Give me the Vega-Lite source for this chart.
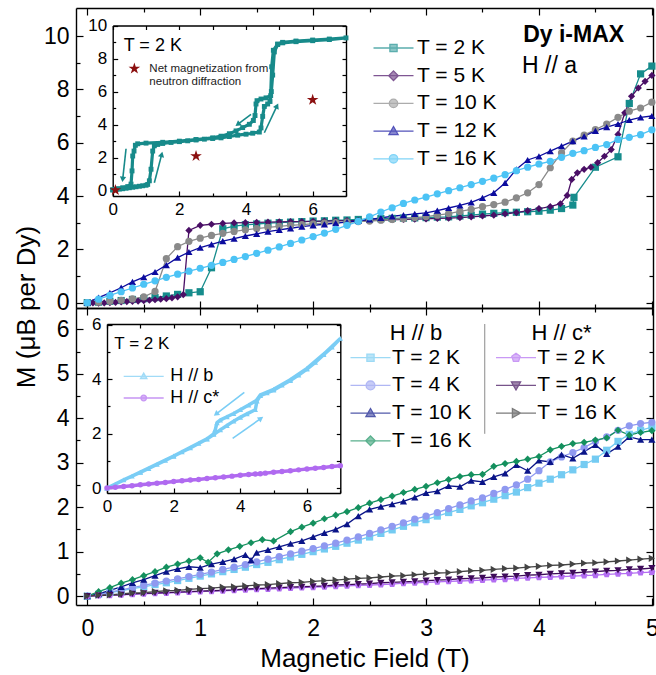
{
"$schema":"https://vega.github.io/schema/vega-lite/v6.json",
"autosize":{"type":"pad"},
"padding":{"left":13,"top":7,"right":2,"bottom":2},
"background":"white",
"spacing":0,
"bounds":"flush",
"config":{
 "font":"Liberation Sans",
 "view":{"stroke":null},
 "axis":{"grid":false,"domainColor":"black","domainWidth":1.4,"tickColor":"black","tickWidth":1.2,"labelColor":"black","titleColor":"black","labelFont":"Liberation Sans","titleFont":"Liberation Sans","titleFontWeight":"normal","labelFlush":false,"labelOverlap":false},
 "legend":{"labelFont":"Liberation Sans","titleFont":"Liberation Sans","labelColor":"black","titleColor":"black","titleFontWeight":"normal","padding":0,"symbolStrokeWidth":1.3,"symbolSize":64}
},
"resolve":{"scale":{"x":"independent","y":"independent","color":"independent","fill":"independent","stroke":"independent","shape":"independent"}},
"datasets":{
"origin":[{"H":0,"M":0}],
"topMain":[
{"s":"2","H":0,"M":0},{"s":"2","H":0.1,"M":0.02},{"s":"2","H":0.2,"M":0.05},{"s":"2","H":0.3,"M":0.08},{"s":"2","H":0.4,"M":0.12},{"s":"2","H":0.5,"M":0.15},{"s":"2","H":0.6,"M":0.19},{"s":"2","H":0.7,"M":0.25},{"s":"2","H":0.8,"M":0.31},{"s":"2","H":0.9,"M":0.37},{"s":"2","H":1,"M":0.41},{"s":"2","H":1.1,"M":1.31},{"s":"2","H":1.2,"M":2.77},{"s":"2","H":1.3,"M":2.87},{"s":"2","H":1.4,"M":2.92},{"s":"2","H":1.5,"M":2.95},{"s":"2","H":1.6,"M":2.98},{"s":"2","H":1.7,"M":3},{"s":"2","H":1.8,"M":3.02},{"s":"2","H":1.9,"M":3.04},{"s":"2","H":2,"M":3.06},{"s":"2","H":2.1,"M":3.07},{"s":"2","H":2.2,"M":3.09},{"s":"2","H":2.3,"M":3.1},{"s":"2","H":2.4,"M":3.12},{"s":"2","H":2.5,"M":3.13},{"s":"2","H":2.6,"M":3.15},{"s":"2","H":2.7,"M":3.16},{"s":"2","H":2.8,"M":3.17},{"s":"2","H":2.9,"M":3.18},{"s":"2","H":3,"M":3.19},{"s":"2","H":3.1,"M":3.21},{"s":"2","H":3.2,"M":3.22},{"s":"2","H":3.3,"M":3.25},{"s":"2","H":3.4,"M":3.28},{"s":"2","H":3.5,"M":3.32},{"s":"2","H":3.6,"M":3.35},{"s":"2","H":3.7,"M":3.38},{"s":"2","H":3.8,"M":3.39},{"s":"2","H":3.9,"M":3.41},{"s":"2","H":4,"M":3.43},{"s":"2","H":4.1,"M":3.47},{"s":"2","H":4.2,"M":3.53},{"s":"2","H":4.3,"M":3.66},{"s":"2","H":4.31,"M":3.95},{"s":"2","H":4.5,"M":5.08},{"s":"2","H":4.7,"M":5.47},{"s":"2","H":4.8,"M":7.47},{"s":"2","H":4.9,"M":8.58},{"s":"2","H":5,"M":8.87},
{"s":"5","H":0,"M":0},{"s":"5","H":0.05,"M":-0.01},{"s":"5","H":0.1,"M":-0.02},{"s":"5","H":0.15,"M":-0.01},{"s":"5","H":0.2,"M":0},{"s":"5","H":0.25,"M":0.01},{"s":"5","H":0.3,"M":0.03},{"s":"5","H":0.35,"M":0.04},{"s":"5","H":0.4,"M":0.05},{"s":"5","H":0.45,"M":0.06},{"s":"5","H":0.5,"M":0.08},{"s":"5","H":0.55,"M":0.09},{"s":"5","H":0.6,"M":0.11},{"s":"5","H":0.65,"M":0.13},{"s":"5","H":0.7,"M":0.15},{"s":"5","H":0.75,"M":0.18},{"s":"5","H":0.8,"M":0.22},{"s":"5","H":0.85,"M":0.3},{"s":"5","H":0.9,"M":2.71},{"s":"5","H":1,"M":2.9},{"s":"5","H":1.1,"M":2.94},{"s":"5","H":1.2,"M":2.97},{"s":"5","H":1.3,"M":2.99},{"s":"5","H":1.4,"M":3},{"s":"5","H":1.5,"M":3.01},{"s":"5","H":1.6,"M":3.02},{"s":"5","H":1.7,"M":3.03},{"s":"5","H":1.8,"M":3.04},{"s":"5","H":1.9,"M":3.04},{"s":"5","H":2,"M":3.05},{"s":"5","H":2.1,"M":3.06},{"s":"5","H":2.2,"M":3.07},{"s":"5","H":2.3,"M":3.08},{"s":"5","H":2.4,"M":3.08},{"s":"5","H":2.5,"M":3.09},{"s":"5","H":2.6,"M":3.1},{"s":"5","H":2.7,"M":3.11},{"s":"5","H":2.8,"M":3.12},{"s":"5","H":2.9,"M":3.13},{"s":"5","H":3,"M":3.14},{"s":"5","H":3.1,"M":3.16},{"s":"5","H":3.2,"M":3.17},{"s":"5","H":3.3,"M":3.19},{"s":"5","H":3.4,"M":3.22},{"s":"5","H":3.5,"M":3.25},{"s":"5","H":3.6,"M":3.28},{"s":"5","H":3.7,"M":3.33},{"s":"5","H":3.8,"M":3.38},{"s":"5","H":3.9,"M":3.45},{"s":"5","H":4,"M":3.53},{"s":"5","H":4.1,"M":3.6},{"s":"5","H":4.19,"M":3.71},{"s":"5","H":4.25,"M":4.02},{"s":"5","H":4.29,"M":4.62},{"s":"5","H":4.34,"M":4.87},{"s":"5","H":4.4,"M":5},{"s":"5","H":4.46,"M":5.08},{"s":"5","H":4.52,"M":5.25},{"s":"5","H":4.58,"M":5.49},{"s":"5","H":4.64,"M":5.74},{"s":"5","H":4.7,"M":6.31},{"s":"5","H":4.76,"M":7.12},{"s":"5","H":4.82,"M":7.74},{"s":"5","H":4.88,"M":8.05},{"s":"5","H":4.94,"M":8.3},{"s":"5","H":5,"M":8.52},
{"s":"10","H":0,"M":0},{"s":"10","H":0.1,"M":0.02},{"s":"10","H":0.2,"M":0.05},{"s":"10","H":0.3,"M":0.09},{"s":"10","H":0.4,"M":0.14},{"s":"10","H":0.5,"M":0.22},{"s":"10","H":0.6,"M":0.42},{"s":"10","H":0.7,"M":1.65},{"s":"10","H":0.8,"M":2.1},{"s":"10","H":0.9,"M":2.3},{"s":"10","H":1,"M":2.42},{"s":"10","H":1.1,"M":2.52},{"s":"10","H":1.2,"M":2.6},{"s":"10","H":1.3,"M":2.67},{"s":"10","H":1.4,"M":2.73},{"s":"10","H":1.5,"M":2.78},{"s":"10","H":1.6,"M":2.82},{"s":"10","H":1.7,"M":2.86},{"s":"10","H":1.8,"M":2.9},{"s":"10","H":1.9,"M":2.93},{"s":"10","H":2,"M":2.96},{"s":"10","H":2.1,"M":2.98},{"s":"10","H":2.2,"M":3},{"s":"10","H":2.3,"M":3.02},{"s":"10","H":2.4,"M":3.04},{"s":"10","H":2.5,"M":3.06},{"s":"10","H":2.6,"M":3.09},{"s":"10","H":2.7,"M":3.12},{"s":"10","H":2.8,"M":3.15},{"s":"10","H":2.9,"M":3.19},{"s":"10","H":3,"M":3.23},{"s":"10","H":3.1,"M":3.28},{"s":"10","H":3.2,"M":3.34},{"s":"10","H":3.3,"M":3.42},{"s":"10","H":3.4,"M":3.5},{"s":"10","H":3.5,"M":3.6},{"s":"10","H":3.6,"M":3.68},{"s":"10","H":3.7,"M":3.77},{"s":"10","H":3.8,"M":3.93},{"s":"10","H":3.9,"M":4.12},{"s":"10","H":4,"M":4.43},{"s":"10","H":4.1,"M":5.06},{"s":"10","H":4.2,"M":5.62},{"s":"10","H":4.3,"M":6.06},{"s":"10","H":4.4,"M":6.28},{"s":"10","H":4.5,"M":6.49},{"s":"10","H":4.6,"M":6.7},{"s":"10","H":4.7,"M":6.95},{"s":"10","H":4.8,"M":7.18},{"s":"10","H":4.9,"M":7.3},{"s":"10","H":5,"M":7.52},
{"s":"12","H":0,"M":0},{"s":"12","H":0.1,"M":0.19},{"s":"12","H":0.2,"M":0.37},{"s":"12","H":0.3,"M":0.56},{"s":"12","H":0.4,"M":0.78},{"s":"12","H":0.5,"M":0.96},{"s":"12","H":0.6,"M":1.15},{"s":"12","H":0.7,"M":1.41},{"s":"12","H":0.8,"M":1.69},{"s":"12","H":0.9,"M":1.9},{"s":"12","H":1,"M":2.06},{"s":"12","H":1.1,"M":2.19},{"s":"12","H":1.2,"M":2.31},{"s":"12","H":1.3,"M":2.4},{"s":"12","H":1.4,"M":2.5},{"s":"12","H":1.5,"M":2.58},{"s":"12","H":1.6,"M":2.66},{"s":"12","H":1.7,"M":2.73},{"s":"12","H":1.8,"M":2.79},{"s":"12","H":1.9,"M":2.85},{"s":"12","H":2,"M":2.9},{"s":"12","H":2.1,"M":2.94},{"s":"12","H":2.2,"M":2.98},{"s":"12","H":2.3,"M":3.02},{"s":"12","H":2.4,"M":3.07},{"s":"12","H":2.5,"M":3.12},{"s":"12","H":2.6,"M":3.18},{"s":"12","H":2.7,"M":3.24},{"s":"12","H":2.8,"M":3.28},{"s":"12","H":2.9,"M":3.33},{"s":"12","H":3,"M":3.37},{"s":"12","H":3.1,"M":3.45},{"s":"12","H":3.2,"M":3.55},{"s":"12","H":3.3,"M":3.65},{"s":"12","H":3.4,"M":3.76},{"s":"12","H":3.5,"M":3.93},{"s":"12","H":3.6,"M":4.12},{"s":"12","H":3.7,"M":4.49},{"s":"12","H":3.8,"M":5},{"s":"12","H":3.9,"M":5.35},{"s":"12","H":4,"M":5.49},{"s":"12","H":4.1,"M":5.68},{"s":"12","H":4.2,"M":5.87},{"s":"12","H":4.3,"M":6.06},{"s":"12","H":4.4,"M":6.24},{"s":"12","H":4.5,"M":6.44},{"s":"12","H":4.6,"M":6.58},{"s":"12","H":4.7,"M":6.7},{"s":"12","H":4.8,"M":6.85},{"s":"12","H":4.9,"M":6.95},{"s":"12","H":5,"M":7},
{"s":"16","H":0,"M":0},{"s":"16","H":0.1,"M":0.13},{"s":"16","H":0.2,"M":0.27},{"s":"16","H":0.3,"M":0.41},{"s":"16","H":0.4,"M":0.55},{"s":"16","H":0.5,"M":0.69},{"s":"16","H":0.6,"M":0.82},{"s":"16","H":0.7,"M":0.95},{"s":"16","H":0.8,"M":1.07},{"s":"16","H":0.9,"M":1.18},{"s":"16","H":1,"M":1.29},{"s":"16","H":1.1,"M":1.4},{"s":"16","H":1.2,"M":1.51},{"s":"16","H":1.3,"M":1.62},{"s":"16","H":1.4,"M":1.73},{"s":"16","H":1.5,"M":1.85},{"s":"16","H":1.6,"M":1.97},{"s":"16","H":1.7,"M":2.09},{"s":"16","H":1.8,"M":2.22},{"s":"16","H":1.9,"M":2.35},{"s":"16","H":2,"M":2.48},{"s":"16","H":2.1,"M":2.61},{"s":"16","H":2.2,"M":2.75},{"s":"16","H":2.3,"M":2.9},{"s":"16","H":2.4,"M":3.05},{"s":"16","H":2.5,"M":3.22},{"s":"16","H":2.6,"M":3.4},{"s":"16","H":2.7,"M":3.56},{"s":"16","H":2.8,"M":3.72},{"s":"16","H":2.9,"M":3.85},{"s":"16","H":3,"M":3.96},{"s":"16","H":3.1,"M":4.08},{"s":"16","H":3.2,"M":4.2},{"s":"16","H":3.3,"M":4.31},{"s":"16","H":3.4,"M":4.43},{"s":"16","H":3.5,"M":4.55},{"s":"16","H":3.6,"M":4.67},{"s":"16","H":3.7,"M":4.8},{"s":"16","H":3.8,"M":4.95},{"s":"16","H":3.9,"M":5.08},{"s":"16","H":4,"M":5.2},{"s":"16","H":4.1,"M":5.3},{"s":"16","H":4.2,"M":5.45},{"s":"16","H":4.3,"M":5.6},{"s":"16","H":4.4,"M":5.7},{"s":"16","H":4.5,"M":5.82},{"s":"16","H":4.6,"M":5.93},{"s":"16","H":4.7,"M":6.12},{"s":"16","H":4.8,"M":6.2},{"s":"16","H":4.9,"M":6.3},{"s":"16","H":5,"M":6.48}
],
"topInset":[
{"i":1,"H":0,"M":0.05},{"i":2,"H":0.1,"M":0.08},{"i":3,"H":0.2,"M":0.1},{"i":4,"H":0.3,"M":0.12},{"i":5,"H":0.4,"M":0.15},{"i":6,"H":0.5,"M":0.18},{"i":7,"H":0.6,"M":0.21},{"i":8,"H":0.7,"M":0.24},{"i":9,"H":0.8,"M":0.27},{"i":10,"H":0.9,"M":0.3},{"i":11,"H":1,"M":0.33},{"i":12,"H":1.05,"M":0.38},{"i":13,"H":1.1,"M":0.6},{"i":14,"H":1.15,"M":1.3},{"i":15,"H":1.2,"M":2.4},{"i":16,"H":1.25,"M":2.72},{"i":17,"H":1.35,"M":2.8},{"i":18,"H":1.5,"M":2.86},{"i":19,"H":1.75,"M":2.92},{"i":20,"H":2,"M":2.97},{"i":21,"H":2.25,"M":3.02},{"i":22,"H":2.5,"M":3.07},{"i":23,"H":2.75,"M":3.12},{"i":24,"H":3,"M":3.16},{"i":25,"H":3.25,"M":3.2},{"i":26,"H":3.5,"M":3.28},{"i":27,"H":3.75,"M":3.36},{"i":28,"H":4,"M":3.42},{"i":29,"H":4.2,"M":3.48},{"i":30,"H":4.4,"M":3.55},{"i":31,"H":4.45,"M":3.8},{"i":32,"H":4.5,"M":4.5},{"i":33,"H":4.55,"M":5.1},{"i":34,"H":4.65,"M":5.25},{"i":35,"H":4.72,"M":5.4},{"i":36,"H":4.76,"M":6},{"i":37,"H":4.8,"M":7},{"i":38,"H":4.85,"M":8.4},{"i":39,"H":4.95,"M":8.85},{"i":40,"H":5.1,"M":8.95},{"i":41,"H":5.5,"M":9.02},{"i":42,"H":6,"M":9.08},{"i":43,"H":6.5,"M":9.15},{"i":44,"H":7,"M":9.25},
{"i":45,"H":6.5,"M":9.18},{"i":46,"H":6,"M":9.12},{"i":47,"H":5.5,"M":9.06},{"i":48,"H":5.1,"M":8.98},{"i":49,"H":4.95,"M":8.88},{"i":50,"H":4.82,"M":8.5},{"i":51,"H":4.77,"M":7.5},{"i":52,"H":4.74,"M":5.75},{"i":53,"H":4.6,"M":5.62},{"i":54,"H":4.45,"M":5.55},{"i":55,"H":4.33,"M":5.45},{"i":56,"H":4.3,"M":5.25},{"i":57,"H":4.27,"M":4.55},{"i":58,"H":4.22,"M":4.25},{"i":59,"H":4.1,"M":4.02},{"i":60,"H":3.9,"M":3.82},{"i":61,"H":3.7,"M":3.62},{"i":62,"H":3.5,"M":3.45},{"i":63,"H":3.25,"M":3.3},{"i":64,"H":3,"M":3.2},{"i":65,"H":2.5,"M":3.1},{"i":66,"H":2,"M":3},{"i":67,"H":1.5,"M":2.93},{"i":68,"H":1,"M":2.88},{"i":69,"H":0.75,"M":2.84},{"i":70,"H":0.68,"M":2.75},{"i":71,"H":0.64,"M":2.4},{"i":72,"H":0.6,"M":2.1},{"i":73,"H":0.58,"M":1.2},{"i":74,"H":0.55,"M":0.4},{"i":75,"H":0.45,"M":0.25},{"i":76,"H":0.3,"M":0.18},{"i":77,"H":0.15,"M":0.12},{"i":78,"H":0,"M":0.05}
],
"topStars":[{"H":0.08,"M":0.04},{"H":2.5,"M":2.1},{"H":6,"M":5.5}],
"topArrows":[{"H":0.4,"M":2.54,"H2":0.3,"M2":0.69},{"H":1.25,"M":0.48,"H2":1.47,"M2":2.2},{"H":4.15,"M":4.62,"H2":3.75,"M2":4.02},{"H":4.55,"M":3.51,"H2":4.93,"M2":5.13}],
"botMain":[
{"s":"b2","H":0,"M":0},{"s":"b2","H":0.1,"M":0.04},{"s":"b2","H":0.2,"M":0.08},{"s":"b2","H":0.3,"M":0.12},{"s":"b2","H":0.4,"M":0.17},{"s":"b2","H":0.5,"M":0.21},{"s":"b2","H":0.6,"M":0.26},{"s":"b2","H":0.7,"M":0.3},{"s":"b2","H":0.8,"M":0.35},{"s":"b2","H":0.9,"M":0.4},{"s":"b2","H":1,"M":0.45},{"s":"b2","H":1.1,"M":0.5},{"s":"b2","H":1.2,"M":0.55},{"s":"b2","H":1.3,"M":0.6},{"s":"b2","H":1.4,"M":0.65},{"s":"b2","H":1.5,"M":0.71},{"s":"b2","H":1.6,"M":0.76},{"s":"b2","H":1.7,"M":0.82},{"s":"b2","H":1.8,"M":0.88},{"s":"b2","H":1.9,"M":0.94},{"s":"b2","H":2,"M":1},{"s":"b2","H":2.1,"M":1.06},{"s":"b2","H":2.2,"M":1.12},{"s":"b2","H":2.3,"M":1.19},{"s":"b2","H":2.4,"M":1.26},{"s":"b2","H":2.5,"M":1.33},{"s":"b2","H":2.6,"M":1.41},{"s":"b2","H":2.7,"M":1.49},{"s":"b2","H":2.8,"M":1.57},{"s":"b2","H":2.9,"M":1.65},{"s":"b2","H":3,"M":1.72},{"s":"b2","H":3.1,"M":1.8},{"s":"b2","H":3.2,"M":1.88},{"s":"b2","H":3.3,"M":1.95},{"s":"b2","H":3.4,"M":2.03},{"s":"b2","H":3.5,"M":2.1},{"s":"b2","H":3.6,"M":2.18},{"s":"b2","H":3.7,"M":2.26},{"s":"b2","H":3.8,"M":2.34},{"s":"b2","H":3.9,"M":2.44},{"s":"b2","H":4,"M":2.54},{"s":"b2","H":4.1,"M":2.63},{"s":"b2","H":4.2,"M":2.73},{"s":"b2","H":4.3,"M":2.84},{"s":"b2","H":4.4,"M":2.96},{"s":"b2","H":4.5,"M":3.08},{"s":"b2","H":4.6,"M":3.28},{"s":"b2","H":4.7,"M":3.48},{"s":"b2","H":4.8,"M":3.64},{"s":"b2","H":4.9,"M":3.73},{"s":"b2","H":5,"M":3.8},
{"s":"b4","H":0,"M":0},{"s":"b4","H":0.1,"M":0.04},{"s":"b4","H":0.2,"M":0.09},{"s":"b4","H":0.3,"M":0.14},{"s":"b4","H":0.4,"M":0.19},{"s":"b4","H":0.5,"M":0.24},{"s":"b4","H":0.6,"M":0.29},{"s":"b4","H":0.7,"M":0.34},{"s":"b4","H":0.8,"M":0.39},{"s":"b4","H":0.9,"M":0.44},{"s":"b4","H":1,"M":0.49},{"s":"b4","H":1.1,"M":0.54},{"s":"b4","H":1.2,"M":0.6},{"s":"b4","H":1.3,"M":0.65},{"s":"b4","H":1.4,"M":0.71},{"s":"b4","H":1.5,"M":0.77},{"s":"b4","H":1.6,"M":0.83},{"s":"b4","H":1.7,"M":0.89},{"s":"b4","H":1.8,"M":0.95},{"s":"b4","H":1.9,"M":1.01},{"s":"b4","H":2,"M":1.07},{"s":"b4","H":2.1,"M":1.13},{"s":"b4","H":2.2,"M":1.19},{"s":"b4","H":2.3,"M":1.26},{"s":"b4","H":2.4,"M":1.33},{"s":"b4","H":2.5,"M":1.41},{"s":"b4","H":2.6,"M":1.49},{"s":"b4","H":2.7,"M":1.57},{"s":"b4","H":2.8,"M":1.65},{"s":"b4","H":2.9,"M":1.73},{"s":"b4","H":3,"M":1.8},{"s":"b4","H":3.1,"M":1.88},{"s":"b4","H":3.2,"M":1.97},{"s":"b4","H":3.3,"M":2.05},{"s":"b4","H":3.4,"M":2.14},{"s":"b4","H":3.5,"M":2.21},{"s":"b4","H":3.6,"M":2.31},{"s":"b4","H":3.7,"M":2.4},{"s":"b4","H":3.8,"M":2.5},{"s":"b4","H":3.9,"M":2.63},{"s":"b4","H":4,"M":2.82},{"s":"b4","H":4.1,"M":3.02},{"s":"b4","H":4.2,"M":3.13},{"s":"b4","H":4.3,"M":3.23},{"s":"b4","H":4.4,"M":3.34},{"s":"b4","H":4.5,"M":3.48},{"s":"b4","H":4.6,"M":3.58},{"s":"b4","H":4.7,"M":3.73},{"s":"b4","H":4.8,"M":3.83},{"s":"b4","H":4.9,"M":3.88},{"s":"b4","H":5,"M":3.91},
{"s":"b10","H":0,"M":0},{"s":"b10","H":0.1,"M":0.05},{"s":"b10","H":0.2,"M":0.13},{"s":"b10","H":0.3,"M":0.21},{"s":"b10","H":0.4,"M":0.3},{"s":"b10","H":0.5,"M":0.37},{"s":"b10","H":0.6,"M":0.46},{"s":"b10","H":0.7,"M":0.55},{"s":"b10","H":0.8,"M":0.61},{"s":"b10","H":0.9,"M":0.66},{"s":"b10","H":1,"M":0.64},{"s":"b10","H":1.1,"M":0.72},{"s":"b10","H":1.2,"M":0.77},{"s":"b10","H":1.3,"M":0.83},{"s":"b10","H":1.4,"M":0.93},{"s":"b10","H":1.45,"M":0.81},{"s":"b10","H":1.5,"M":0.98},{"s":"b10","H":1.6,"M":1.04},{"s":"b10","H":1.7,"M":1.11},{"s":"b10","H":1.8,"M":1.18},{"s":"b10","H":1.9,"M":1.24},{"s":"b10","H":2,"M":1.33},{"s":"b10","H":2.1,"M":1.42},{"s":"b10","H":2.2,"M":1.5},{"s":"b10","H":2.3,"M":1.62},{"s":"b10","H":2.4,"M":1.8},{"s":"b10","H":2.5,"M":1.95},{"s":"b10","H":2.6,"M":2.01},{"s":"b10","H":2.7,"M":2.07},{"s":"b10","H":2.8,"M":2.13},{"s":"b10","H":2.9,"M":2.22},{"s":"b10","H":3,"M":2.32},{"s":"b10","H":3.1,"M":2.36},{"s":"b10","H":3.2,"M":2.48},{"s":"b10","H":3.3,"M":2.46},{"s":"b10","H":3.4,"M":2.6},{"s":"b10","H":3.5,"M":2.57},{"s":"b10","H":3.6,"M":2.68},{"s":"b10","H":3.7,"M":2.76},{"s":"b10","H":3.8,"M":2.95},{"s":"b10","H":3.9,"M":2.82},{"s":"b10","H":4,"M":3.05},{"s":"b10","H":4.1,"M":3.02},{"s":"b10","H":4.2,"M":3.18},{"s":"b10","H":4.3,"M":3.1},{"s":"b10","H":4.4,"M":3.25},{"s":"b10","H":4.5,"M":3.4},{"s":"b10","H":4.6,"M":3.2},{"s":"b10","H":4.7,"M":3.36},{"s":"b10","H":4.8,"M":3.58},{"s":"b10","H":4.9,"M":3.52},{"s":"b10","H":5,"M":3.52},
{"s":"b16","H":0,"M":0},{"s":"b16","H":0.1,"M":0.1},{"s":"b16","H":0.2,"M":0.19},{"s":"b16","H":0.3,"M":0.29},{"s":"b16","H":0.4,"M":0.37},{"s":"b16","H":0.5,"M":0.46},{"s":"b16","H":0.6,"M":0.55},{"s":"b16","H":0.7,"M":0.65},{"s":"b16","H":0.8,"M":0.72},{"s":"b16","H":0.9,"M":0.79},{"s":"b16","H":1,"M":0.86},{"s":"b16","H":1.07,"M":0.76},{"s":"b16","H":1.15,"M":0.95},{"s":"b16","H":1.25,"M":1.04},{"s":"b16","H":1.35,"M":1.12},{"s":"b16","H":1.45,"M":1.2},{"s":"b16","H":1.55,"M":1.27},{"s":"b16","H":1.65,"M":1.24},{"s":"b16","H":1.8,"M":1.45},{"s":"b16","H":1.9,"M":1.55},{"s":"b16","H":2,"M":1.64},{"s":"b16","H":2.1,"M":1.74},{"s":"b16","H":2.2,"M":1.82},{"s":"b16","H":2.3,"M":1.9},{"s":"b16","H":2.4,"M":1.99},{"s":"b16","H":2.5,"M":2.09},{"s":"b16","H":2.6,"M":2.17},{"s":"b16","H":2.7,"M":2.25},{"s":"b16","H":2.8,"M":2.33},{"s":"b16","H":2.9,"M":2.4},{"s":"b16","H":3,"M":2.47},{"s":"b16","H":3.1,"M":2.55},{"s":"b16","H":3.2,"M":2.62},{"s":"b16","H":3.3,"M":2.69},{"s":"b16","H":3.4,"M":2.73},{"s":"b16","H":3.5,"M":2.74},{"s":"b16","H":3.6,"M":2.92},{"s":"b16","H":3.7,"M":2.98},{"s":"b16","H":3.8,"M":3.03},{"s":"b16","H":3.9,"M":3.08},{"s":"b16","H":4,"M":3.14},{"s":"b16","H":4.1,"M":3.29},{"s":"b16","H":4.2,"M":3.37},{"s":"b16","H":4.3,"M":3.43},{"s":"b16","H":4.4,"M":3.46},{"s":"b16","H":4.5,"M":3.51},{"s":"b16","H":4.6,"M":3.56},{"s":"b16","H":4.7,"M":3.73},{"s":"b16","H":4.8,"M":3.62},{"s":"b16","H":4.9,"M":3.68},{"s":"b16","H":5,"M":3.72},
{"s":"c2","H":0,"M":0},{"s":"c2","H":0.1,"M":0.01},{"s":"c2","H":0.2,"M":0.02},{"s":"c2","H":0.3,"M":0.03},{"s":"c2","H":0.4,"M":0.04},{"s":"c2","H":0.5,"M":0.05},{"s":"c2","H":0.6,"M":0.06},{"s":"c2","H":0.7,"M":0.07},{"s":"c2","H":0.8,"M":0.08},{"s":"c2","H":0.9,"M":0.09},{"s":"c2","H":1,"M":0.1},{"s":"c2","H":1.1,"M":0.11},{"s":"c2","H":1.2,"M":0.12},{"s":"c2","H":1.3,"M":0.13},{"s":"c2","H":1.4,"M":0.14},{"s":"c2","H":1.5,"M":0.15},{"s":"c2","H":1.6,"M":0.16},{"s":"c2","H":1.7,"M":0.17},{"s":"c2","H":1.8,"M":0.18},{"s":"c2","H":1.9,"M":0.19},{"s":"c2","H":2,"M":0.2},{"s":"c2","H":2.1,"M":0.21},{"s":"c2","H":2.2,"M":0.22},{"s":"c2","H":2.3,"M":0.23},{"s":"c2","H":2.4,"M":0.24},{"s":"c2","H":2.5,"M":0.25},{"s":"c2","H":2.6,"M":0.26},{"s":"c2","H":2.7,"M":0.27},{"s":"c2","H":2.8,"M":0.29},{"s":"c2","H":2.9,"M":0.3},{"s":"c2","H":3,"M":0.31},{"s":"c2","H":3.1,"M":0.32},{"s":"c2","H":3.2,"M":0.33},{"s":"c2","H":3.3,"M":0.34},{"s":"c2","H":3.4,"M":0.35},{"s":"c2","H":3.5,"M":0.36},{"s":"c2","H":3.6,"M":0.37},{"s":"c2","H":3.7,"M":0.38},{"s":"c2","H":3.8,"M":0.4},{"s":"c2","H":3.9,"M":0.41},{"s":"c2","H":4,"M":0.42},{"s":"c2","H":4.1,"M":0.43},{"s":"c2","H":4.2,"M":0.44},{"s":"c2","H":4.3,"M":0.45},{"s":"c2","H":4.4,"M":0.46},{"s":"c2","H":4.5,"M":0.47},{"s":"c2","H":4.6,"M":0.49},{"s":"c2","H":4.7,"M":0.5},{"s":"c2","H":4.8,"M":0.51},{"s":"c2","H":4.9,"M":0.53},{"s":"c2","H":5,"M":0.54},
{"s":"c10","H":0,"M":0},{"s":"c10","H":0.1,"M":0.01},{"s":"c10","H":0.2,"M":0.02},{"s":"c10","H":0.3,"M":0.03},{"s":"c10","H":0.4,"M":0.05},{"s":"c10","H":0.5,"M":0.06},{"s":"c10","H":0.6,"M":0.07},{"s":"c10","H":0.7,"M":0.08},{"s":"c10","H":0.8,"M":0.09},{"s":"c10","H":0.9,"M":0.1},{"s":"c10","H":1,"M":0.11},{"s":"c10","H":1.1,"M":0.12},{"s":"c10","H":1.2,"M":0.13},{"s":"c10","H":1.3,"M":0.14},{"s":"c10","H":1.4,"M":0.16},{"s":"c10","H":1.5,"M":0.17},{"s":"c10","H":1.6,"M":0.18},{"s":"c10","H":1.7,"M":0.19},{"s":"c10","H":1.8,"M":0.2},{"s":"c10","H":1.9,"M":0.21},{"s":"c10","H":2,"M":0.22},{"s":"c10","H":2.1,"M":0.23},{"s":"c10","H":2.2,"M":0.25},{"s":"c10","H":2.3,"M":0.26},{"s":"c10","H":2.4,"M":0.27},{"s":"c10","H":2.5,"M":0.28},{"s":"c10","H":2.6,"M":0.3},{"s":"c10","H":2.7,"M":0.31},{"s":"c10","H":2.8,"M":0.32},{"s":"c10","H":2.9,"M":0.33},{"s":"c10","H":3,"M":0.35},{"s":"c10","H":3.1,"M":0.36},{"s":"c10","H":3.2,"M":0.37},{"s":"c10","H":3.3,"M":0.39},{"s":"c10","H":3.4,"M":0.4},{"s":"c10","H":3.5,"M":0.41},{"s":"c10","H":3.6,"M":0.43},{"s":"c10","H":3.7,"M":0.44},{"s":"c10","H":3.8,"M":0.45},{"s":"c10","H":3.9,"M":0.47},{"s":"c10","H":4,"M":0.48},{"s":"c10","H":4.1,"M":0.5},{"s":"c10","H":4.2,"M":0.51},{"s":"c10","H":4.3,"M":0.52},{"s":"c10","H":4.4,"M":0.54},{"s":"c10","H":4.5,"M":0.55},{"s":"c10","H":4.6,"M":0.57},{"s":"c10","H":4.7,"M":0.58},{"s":"c10","H":4.8,"M":0.6},{"s":"c10","H":4.9,"M":0.61},{"s":"c10","H":5,"M":0.63},
{"s":"c16","H":0,"M":0},{"s":"c16","H":0.1,"M":0.02},{"s":"c16","H":0.2,"M":0.03},{"s":"c16","H":0.3,"M":0.05},{"s":"c16","H":0.4,"M":0.07},{"s":"c16","H":0.5,"M":0.08},{"s":"c16","H":0.6,"M":0.1},{"s":"c16","H":0.7,"M":0.12},{"s":"c16","H":0.8,"M":0.13},{"s":"c16","H":0.9,"M":0.15},{"s":"c16","H":1,"M":0.17},{"s":"c16","H":1.1,"M":0.18},{"s":"c16","H":1.2,"M":0.2},{"s":"c16","H":1.3,"M":0.21},{"s":"c16","H":1.4,"M":0.23},{"s":"c16","H":1.5,"M":0.25},{"s":"c16","H":1.6,"M":0.26},{"s":"c16","H":1.7,"M":0.28},{"s":"c16","H":1.8,"M":0.3},{"s":"c16","H":1.9,"M":0.31},{"s":"c16","H":2,"M":0.33},{"s":"c16","H":2.1,"M":0.35},{"s":"c16","H":2.2,"M":0.36},{"s":"c16","H":2.3,"M":0.38},{"s":"c16","H":2.4,"M":0.4},{"s":"c16","H":2.5,"M":0.41},{"s":"c16","H":2.6,"M":0.43},{"s":"c16","H":2.7,"M":0.45},{"s":"c16","H":2.8,"M":0.46},{"s":"c16","H":2.9,"M":0.48},{"s":"c16","H":3,"M":0.5},{"s":"c16","H":3.1,"M":0.52},{"s":"c16","H":3.2,"M":0.53},{"s":"c16","H":3.3,"M":0.55},{"s":"c16","H":3.4,"M":0.57},{"s":"c16","H":3.5,"M":0.58},{"s":"c16","H":3.6,"M":0.6},{"s":"c16","H":3.7,"M":0.62},{"s":"c16","H":3.8,"M":0.63},{"s":"c16","H":3.9,"M":0.65},{"s":"c16","H":4,"M":0.67},{"s":"c16","H":4.1,"M":0.69},{"s":"c16","H":4.2,"M":0.7},{"s":"c16","H":4.3,"M":0.72},{"s":"c16","H":4.4,"M":0.74},{"s":"c16","H":4.5,"M":0.75},{"s":"c16","H":4.6,"M":0.77},{"s":"c16","H":4.7,"M":0.79},{"s":"c16","H":4.8,"M":0.81},{"s":"c16","H":4.9,"M":0.83},{"s":"c16","H":5,"M":0.85}
],
"botInset":[
{"s":"b","i":1,"H":0,"M":0},{"s":"b","i":2,"H":0.25,"M":0.15},{"s":"b","i":3,"H":0.5,"M":0.3},{"s":"b","i":4,"H":0.75,"M":0.44},{"s":"b","i":5,"H":1,"M":0.58},{"s":"b","i":6,"H":1.25,"M":0.72},{"s":"b","i":7,"H":1.5,"M":0.87},{"s":"b","i":8,"H":1.75,"M":1.02},{"s":"b","i":9,"H":2,"M":1.17},{"s":"b","i":10,"H":2.25,"M":1.33},{"s":"b","i":11,"H":2.5,"M":1.48},{"s":"b","i":12,"H":2.75,"M":1.64},{"s":"b","i":13,"H":3,"M":1.8},{"s":"b","i":14,"H":3.2,"M":1.97},{"s":"b","i":15,"H":3.4,"M":2.14},{"s":"b","i":16,"H":3.6,"M":2.3},{"s":"b","i":17,"H":3.8,"M":2.46},{"s":"b","i":18,"H":4,"M":2.6},{"s":"b","i":19,"H":4.2,"M":2.73},{"s":"b","i":20,"H":4.45,"M":2.88},{"s":"b","i":21,"H":4.5,"M":3.2},{"s":"b","i":22,"H":4.6,"M":3.4},{"s":"b","i":23,"H":4.8,"M":3.5},{"s":"b","i":24,"H":5,"M":3.6},{"s":"b","i":25,"H":5.25,"M":3.78},{"s":"b","i":26,"H":5.5,"M":3.95},{"s":"b","i":27,"H":5.75,"M":4.15},{"s":"b","i":28,"H":6,"M":4.37},{"s":"b","i":29,"H":6.25,"M":4.62},{"s":"b","i":30,"H":6.5,"M":4.9},{"s":"b","i":31,"H":6.75,"M":5.18},{"s":"b","i":32,"H":7,"M":5.5},
{"s":"b","i":33,"H":6.5,"M":4.92},{"s":"b","i":34,"H":6,"M":4.4},{"s":"b","i":35,"H":5.5,"M":3.98},{"s":"b","i":36,"H":5,"M":3.63},{"s":"b","i":37,"H":4.6,"M":3.42},{"s":"b","i":38,"H":4.48,"M":3.22},{"s":"b","i":39,"H":4.25,"M":3.05},{"s":"b","i":40,"H":4,"M":2.88},{"s":"b","i":41,"H":3.8,"M":2.74},{"s":"b","i":42,"H":3.6,"M":2.62},{"s":"b","i":43,"H":3.4,"M":2.5},{"s":"b","i":44,"H":3.3,"M":2.4},{"s":"b","i":45,"H":3.25,"M":2.15},{"s":"b","i":46,"H":3.2,"M":1.99},{"s":"b","i":47,"H":3,"M":1.81},{"s":"b","i":48,"H":2,"M":1.18},{"s":"b","i":49,"H":1,"M":0.59},{"s":"b","i":50,"H":0,"M":0},
{"s":"c","i":1,"H":0,"M":0},{"s":"c","i":2,"H":0.25,"M":0.03},{"s":"c","i":3,"H":0.5,"M":0.06},{"s":"c","i":4,"H":0.75,"M":0.09},{"s":"c","i":5,"H":1,"M":0.12},{"s":"c","i":6,"H":1.25,"M":0.15},{"s":"c","i":7,"H":1.5,"M":0.18},{"s":"c","i":8,"H":1.75,"M":0.21},{"s":"c","i":9,"H":2,"M":0.24},{"s":"c","i":10,"H":2.25,"M":0.27},{"s":"c","i":11,"H":2.5,"M":0.3},{"s":"c","i":12,"H":2.75,"M":0.32},{"s":"c","i":13,"H":3,"M":0.35},{"s":"c","i":14,"H":3.25,"M":0.38},{"s":"c","i":15,"H":3.5,"M":0.41},{"s":"c","i":16,"H":3.75,"M":0.44},{"s":"c","i":17,"H":4,"M":0.47},{"s":"c","i":18,"H":4.25,"M":0.5},{"s":"c","i":19,"H":4.45,"M":0.52},{"s":"c","i":20,"H":4.6,"M":0.53},{"s":"c","i":21,"H":4.75,"M":0.55},{"s":"c","i":22,"H":5,"M":0.58},{"s":"c","i":23,"H":5.25,"M":0.61},{"s":"c","i":24,"H":5.5,"M":0.64},{"s":"c","i":25,"H":5.75,"M":0.67},{"s":"c","i":26,"H":6,"M":0.7},{"s":"c","i":27,"H":6.25,"M":0.73},{"s":"c","i":28,"H":6.5,"M":0.76},{"s":"c","i":29,"H":6.75,"M":0.79},{"s":"c","i":30,"H":7,"M":0.82}
],
"botArrows":[{"H":4.12,"M":3.52,"H2":3.27,"M2":2.72},{"H":3.77,"M":1.83,"H2":4.62,"M2":2.56}]
},
"vconcat":[
{
"width":577,"height":300,
"resolve":{"scale":{"x":"independent","y":"independent","color":"independent","fill":"independent","stroke":"independent","shape":"independent"},"axis":{"x":"independent","y":"independent"},"legend":{"color":"independent","fill":"independent","stroke":"independent","shape":"independent"}},
"layer":[
{"data":{"name":"topMain"},"mark":{"type":"line","strokeWidth":1.3},
 "encoding":{
 "x":{"field":"H","type":"quantitative","scale":{"domain":[-0.1,5.01],"nice":false,"zero":false},"axis":{"orient":"bottom","values":[0,1,2,3,4,5],"labels":false,"tickSize":-7,"title":null}},
 "y":{"field":"M","type":"quantitative","scale":{"domain":[-0.2,11.05],"nice":false,"zero":false},"axis":{"orient":"left","values":[0,2,4,6,8,10],"labelFontSize":23,"tickSize":-7,"labelPadding":14,"title":"M (μB per Dy)","titleFontSize":26,"titleX":-50,"titleY":298.5,"titleAngle":270,"titleAlign":"center","titleBaseline":"middle"}},
 "color":{"field":"s","type":"nominal","scale":{"domain":["2","5","10","12","16"],"range":["#168C8C","#4A0F66","#8A8A8A","#0B0B9E","#4CC3F5"]},"legend":null}}},
{"data":{"name":"topMain"},"mark":{"type":"point","filled":true,"size":52,"opacity":1},
 "encoding":{
 "x":{"field":"H","type":"quantitative","scale":{"domain":[-0.1,5.01],"nice":false,"zero":false},"axis":{"orient":"bottom","values":[0.5,1.5,2.5,3.5,4.5],"labels":false,"tickSize":-4,"domain":false,"title":null}},
 "y":{"field":"M","type":"quantitative","scale":{"domain":[-0.2,11.05],"nice":false,"zero":false},"axis":{"orient":"left","values":[1,3,5,7,9],"labels":false,"tickSize":-4,"domain":false,"title":null}},
 "color":{"field":"s","type":"nominal","scale":{"domain":["2","5","10","12","16"],"range":["#168C8C","#4A0F66","#8A8A8A","#0B0B9E","#4CC3F5"]},"legend":null},
 "shape":{"field":"s","type":"nominal","scale":{"domain":["2","5","10","12","16"],"range":["square","diamond","circle","triangle-up","circle"]},"legend":null}}},
{"data":{"name":"origin"},"mark":{"type":"point","opacity":0},
 "encoding":{
 "x":{"field":"H","type":"quantitative","scale":{"domain":[-0.1,5.01],"nice":false,"zero":false},"axis":{"orient":"top","values":[0,1,2,3,4,5],"labels":false,"tickSize":-7,"title":null}},
 "y":{"field":"M","type":"quantitative","scale":{"domain":[-0.2,11.05],"nice":false,"zero":false},"axis":{"orient":"right","values":[0,2,4,6,8,10],"labels":false,"tickSize":-7,"title":null}}}},
{"data":{"name":"origin"},"mark":{"type":"point","opacity":0},
 "encoding":{
 "x":{"field":"H","type":"quantitative","scale":{"domain":[-0.1,5.01],"nice":false,"zero":false},"axis":{"orient":"top","values":[0.5,1.5,2.5,3.5,4.5],"labels":false,"tickSize":-4,"domain":false,"title":null}},
 "y":{"field":"M","type":"quantitative","scale":{"domain":[-0.2,11.05],"nice":false,"zero":false},"axis":{"orient":"right","values":[1,3,5,7,9],"labels":false,"tickSize":-4,"domain":false,"title":null}}}},
{"data":{"values":[{"lab":"T = 2 K"},{"lab":"T = 5 K"},{"lab":"T = 10 K"},{"lab":"T = 12 K"},{"lab":"T = 16 K"}]},
 "mark":{"type":"point","filled":true,"clip":true,"strokeWidth":1.3},
 "encoding":{
 "x":{"datum":-0.3,"type":"quantitative","scale":{"domain":[-0.1,5.01],"nice":false,"zero":false},"axis":null},
 "y":{"datum":-0.5,"type":"quantitative","scale":{"domain":[-0.2,11.05],"nice":false,"zero":false},"axis":null},
 "fill":{"field":"lab","type":"nominal","scale":{"domain":["T = 2 K","T = 5 K","T = 10 K","T = 12 K","T = 16 K"],"range":["#168C8C","#4A0F66","#8A8A8A","#0B0B9E","#4CC3F5"]},"legend":{"orient":"none","legendX":307,"legendY":29.5,"title":null,"labelFontSize":21,"labelOffset":13,"rowPadding":5.7,"symbolSize":64,"symbolStrokeWidth":1.3}},
 "stroke":{"field":"lab","type":"nominal","scale":{"domain":["T = 2 K","T = 5 K","T = 10 K","T = 12 K","T = 16 K"],"range":["#168C8C","#4A0F66","#8A8A8A","#0B0B9E","#4CC3F5"]},"legend":{"orient":"none","legendX":307,"legendY":29.5,"title":null,"labelFontSize":21,"labelOffset":13,"rowPadding":5.7,"symbolSize":64,"symbolStrokeWidth":1.3}},
 "shape":{"field":"lab","type":"nominal","scale":{"domain":["T = 2 K","T = 5 K","T = 10 K","T = 12 K","T = 16 K"],"range":["M-5,0H5M-0.9,-0.9H0.9V0.9H-0.9Z","M-5,0H5M0,-1.2L1.2,0L0,1.2L-1.2,0Z","M-5,0H5M-1.05,0A1.05,1.05,0,1,0,1.05,0A1.05,1.05,0,1,0,-1.05,0Z","M-5,0H5M0,-1.15L1.15,0.9L-1.15,0.9Z","M-5,0H5M-1.05,0A1.05,1.05,0,1,0,1.05,0A1.05,1.05,0,1,0,-1.05,0Z"]},"legend":{"orient":"none","legendX":307,"legendY":29.5,"title":null,"labelFontSize":21,"labelOffset":13,"rowPadding":5.7,"symbolSize":64,"symbolStrokeWidth":1.3}}}},
{"data":{"name":"origin"},"mark":{"type":"text","text":"Dy i-MAX","fontSize":23,"fontWeight":"bold","align":"left","baseline":"alphabetic","color":"black"},
 "encoding":{
 "x":{"datum":3.86,"type":"quantitative","scale":{"domain":[-0.1,5.01],"nice":false,"zero":false},"axis":null},
 "y":{"datum":9.78,"type":"quantitative","scale":{"domain":[-0.2,11.05],"nice":false,"zero":false},"axis":null}}},
{"data":{"name":"origin"},"mark":{"type":"text","text":"H // a","fontSize":23,"align":"left","baseline":"alphabetic","color":"black"},
 "encoding":{
 "x":{"datum":3.85,"type":"quantitative","scale":{"domain":[-0.1,5.01],"nice":false,"zero":false},"axis":null},
 "y":{"datum":8.61,"type":"quantitative","scale":{"domain":[-0.2,11.05],"nice":false,"zero":false},"axis":null}}},
{"data":{"name":"topInset"},"mark":{"type":"line","strokeWidth":3.2,"color":"#178A8A"},
 "encoding":{
 "order":{"field":"i","type":"quantitative"},
 "x":{"field":"H","type":"quantitative","scale":{"domain":[0,7],"range":[36.7,270],"nice":false,"zero":false},"axis":{"orient":"bottom","offset":-112,"values":[0,2,4,6],"labelFontSize":17,"tickSize":-5,"labelPadding":10,"title":null}},
 "y":{"field":"M","type":"quantitative","scale":{"domain":[-0.32,10],"range":[188,17.5],"nice":false,"zero":false},"axis":{"orient":"left","offset":-36.7,"values":[0,2,4,6,8,10],"labelFontSize":17,"tickSize":-5,"labelPadding":11,"title":null}}}},
{"data":{"name":"topInset"},"mark":{"type":"point","shape":"square","filled":true,"size":24,"color":"#178A8A","opacity":1},
 "encoding":{
 "x":{"field":"H","type":"quantitative","scale":{"domain":[0,7],"range":[36.7,270],"nice":false,"zero":false},"axis":{"orient":"bottom","offset":-112,"values":[1,3,5,7],"labels":false,"tickSize":-3,"domain":false,"title":null}},
 "y":{"field":"M","type":"quantitative","scale":{"domain":[-0.32,10],"range":[188,17.5],"nice":false,"zero":false},"axis":{"orient":"left","offset":-36.7,"values":[1,3,5,7,9],"labels":false,"tickSize":-3,"domain":false,"title":null}}}},
{"data":{"name":"topStars"},"mark":{"type":"point","filled":true,"size":150,"color":"#8B1010","opacity":1,"shape":"M0,-1L0.2245,-0.309L0.9511,-0.309L0.3633,0.118L0.5878,0.809L0,0.382L-0.5878,0.809L-0.3633,0.118L-0.9511,-0.309L-0.2245,-0.309Z"},
 "encoding":{
 "x":{"field":"H","type":"quantitative","scale":{"domain":[0,7],"range":[36.7,270],"nice":false,"zero":false},"axis":{"orient":"top","offset":-17.5,"values":[0,1,2,3,4,5,6,7],"labels":false,"tickSize":-4,"title":null}},
 "y":{"field":"M","type":"quantitative","scale":{"domain":[-0.32,10],"range":[188,17.5],"nice":false,"zero":false},"axis":{"orient":"right","offset":-307,"values":[0,1,2,3,4,5,6,7,8,9,10],"labels":false,"tickSize":-4,"title":null}}}},
{"data":{"name":"origin"},"mark":{"type":"point","filled":true,"size":150,"color":"#8B1010","opacity":1,"shape":"M0,-1L0.2245,-0.309L0.9511,-0.309L0.3633,0.118L0.5878,0.809L0,0.382L-0.5878,0.809L-0.3633,0.118L-0.9511,-0.309L-0.2245,-0.309Z"},
 "encoding":{
 "x":{"datum":0.65,"type":"quantitative","scale":{"domain":[0,7],"range":[36.7,270],"nice":false,"zero":false},"axis":null},
 "y":{"datum":7.39,"type":"quantitative","scale":{"domain":[-0.32,10],"range":[188,17.5],"nice":false,"zero":false},"axis":null}}},
{"data":{"name":"origin"},"mark":{"type":"text","text":"T = 2 K","fontSize":18,"align":"left","baseline":"alphabetic","color":"black"},
 "encoding":{
 "x":{"datum":0.33,"type":"quantitative","scale":{"domain":[0,7],"range":[36.7,270],"nice":false,"zero":false},"axis":null},
 "y":{"datum":8.46,"type":"quantitative","scale":{"domain":[-0.32,10],"range":[188,17.5],"nice":false,"zero":false},"axis":null}}},
{"data":{"name":"origin"},"mark":{"type":"text","text":["Net magnetization from"," neutron diffraction"],"fontSize":11.5,"lineHeight":13,"align":"left","baseline":"alphabetic","color":"#222222"},
 "encoding":{
 "x":{"datum":1.1,"type":"quantitative","scale":{"domain":[0,7],"range":[36.7,270],"nice":false,"zero":false},"axis":null},
 "y":{"datum":7.19,"type":"quantitative","scale":{"domain":[-0.32,10],"range":[188,17.5],"nice":false,"zero":false},"axis":null}}},
{"data":{"name":"topArrows"},"mark":{"type":"rule","strokeWidth":1.6,"color":"#178A8A"},
 "encoding":{
 "x":{"field":"H","type":"quantitative","scale":{"domain":[0,7],"range":[36.7,270],"nice":false,"zero":false},"axis":null},
 "y":{"field":"M","type":"quantitative","scale":{"domain":[-0.32,10],"range":[188,17.5],"nice":false,"zero":false},"axis":null},
 "x2":{"field":"H2"},"y2":{"field":"M2"}}},
{"data":{"name":"topArrows"},"transform":[{"calculate":"atan2((datum.H2-datum.H)*33.33,(datum.M2-datum.M)*16.52)*180/PI","as":"ang"}],
 "mark":{"type":"point","shape":"triangle-up","filled":true,"size":40,"color":"#178A8A","opacity":1},
 "encoding":{
 "x":{"field":"H2","type":"quantitative","scale":{"domain":[0,7],"range":[36.7,270],"nice":false,"zero":false},"axis":null},
 "y":{"field":"M2","type":"quantitative","scale":{"domain":[-0.32,10],"range":[188,17.5],"nice":false,"zero":false},"axis":null},
 "angle":{"field":"ang","type":"quantitative","scale":null}}}
]
},
{
"width":577,"height":297,
"resolve":{"scale":{"x":"independent","y":"independent","color":"independent","fill":"independent","stroke":"independent","shape":"independent"},"axis":{"x":"independent","y":"independent"},"legend":{"color":"independent","fill":"independent","stroke":"independent","shape":"independent"}},
"layer":[
{"data":{"name":"botMain"},"mark":{"type":"line","strokeWidth":1.3},
 "encoding":{
 "x":{"field":"H","type":"quantitative","scale":{"domain":[-0.1,5.01],"nice":false,"zero":false},"axis":{"orient":"bottom","values":[0,1,2,3,4,5],"labelFontSize":23,"tickSize":-7,"labelPadding":19,"title":"Magnetic Field (T)","titleFontSize":26,"titleY":61,"titleBaseline":"alphabetic"}},
 "y":{"field":"M","type":"quantitative","scale":{"domain":[-0.2,6.48],"nice":false,"zero":false},"axis":{"orient":"left","values":[0,1,2,3,4,5,6],"labelFontSize":23,"tickSize":-7,"labelPadding":14,"title":null}},
 "color":{"field":"s","type":"nominal","scale":{"domain":["b2","b4","b10","b16","c2","c10","c16"],"range":["#74CBF2","#8F99F0","#0A1488","#14905E","#B36EF2","#3E0B5A","#444444"]},"legend":null}}},
{"data":{"name":"botMain"},"mark":{"type":"point","filled":true,"size":52,"opacity":1},
 "encoding":{
 "x":{"field":"H","type":"quantitative","scale":{"domain":[-0.1,5.01],"nice":false,"zero":false},"axis":{"orient":"bottom","values":[0.5,1.5,2.5,3.5,4.5],"labels":false,"tickSize":-4,"domain":false,"title":null}},
 "y":{"field":"M","type":"quantitative","scale":{"domain":[-0.2,6.48],"nice":false,"zero":false},"axis":{"orient":"left","values":[0.5,1.5,2.5,3.5,4.5,5.5],"labels":false,"tickSize":-4,"domain":false,"title":null}},
 "color":{"field":"s","type":"nominal","scale":{"domain":["b2","b4","b10","b16","c2","c10","c16"],"range":["#74CBF2","#8F99F0","#0A1488","#14905E","#B36EF2","#3E0B5A","#444444"]},"legend":null},
 "shape":{"field":"s","type":"nominal","scale":{"domain":["b2","b4","b10","b16","c2","c10","c16"],"range":["square","circle","triangle-up","diamond","M0,-1L0.951,-0.309L0.588,0.809L-0.588,0.809L-0.951,-0.309Z","triangle-down","triangle-right"]},"legend":null}}},
{"data":{"name":"origin"},"mark":{"type":"point","opacity":0},
 "encoding":{
 "x":{"field":"H","type":"quantitative","scale":{"domain":[-0.1,5.01],"nice":false,"zero":false},"axis":{"orient":"top","values":[0,1,2,3,4,5],"labels":false,"tickSize":-7,"title":null}},
 "y":{"field":"M","type":"quantitative","scale":{"domain":[-0.2,6.48],"nice":false,"zero":false},"axis":{"orient":"right","values":[0,1,2,3,4,5,6],"labels":false,"tickSize":-7,"title":null}}}},
{"data":{"name":"origin"},"mark":{"type":"point","opacity":0},
 "encoding":{
 "x":{"field":"H","type":"quantitative","scale":{"domain":[-0.1,5.01],"nice":false,"zero":false},"axis":{"orient":"top","values":[0.5,1.5,2.5,3.5,4.5],"labels":false,"tickSize":-4,"domain":false,"title":null}},
 "y":{"field":"M","type":"quantitative","scale":{"domain":[-0.2,6.48],"nice":false,"zero":false},"axis":{"orient":"right","values":[0.5,1.5,2.5,3.5,4.5,5.5],"labels":false,"tickSize":-4,"domain":false,"title":null}}}},
{"data":{"values":[{"labB":"T = 2 K"},{"labB":"T = 4 K"},{"labB":"T = 10 K"},{"labB":"T = 16 K"}]},
 "mark":{"type":"point","filled":true,"clip":true,"strokeWidth":1.3},
 "encoding":{
 "x":{"datum":-0.3,"type":"quantitative","scale":{"domain":[-0.1,5.01],"nice":false,"zero":false},"axis":null},
 "y":{"datum":-0.5,"type":"quantitative","scale":{"domain":[-0.2,6.48],"nice":false,"zero":false},"axis":null},
 "fill":{"field":"labB","type":"nominal","scale":{"domain":["T = 2 K","T = 4 K","T = 10 K","T = 16 K"],"range":["#74CBF2","#8F99F0","#0A1488","#14905E"]},"legend":{"orient":"none","legendX":284,"legendY":15.4,"title":"H // b","titleFontSize":22,"titleAnchor":"middle","titlePadding":1.8,"labelFontSize":21,"labelOffset":11,"rowPadding":5.7,"symbolSize":64,"symbolStrokeWidth":1.3}},
 "stroke":{"field":"labB","type":"nominal","scale":{"domain":["T = 2 K","T = 4 K","T = 10 K","T = 16 K"],"range":["#74CBF2","#8F99F0","#0A1488","#14905E"]},"legend":{"orient":"none","legendX":284,"legendY":15.4,"title":"H // b","titleFontSize":22,"titleAnchor":"middle","titlePadding":1.8,"labelFontSize":21,"labelOffset":11,"rowPadding":5.7,"symbolSize":64,"symbolStrokeWidth":1.3}},
 "shape":{"field":"labB","type":"nominal","scale":{"domain":["T = 2 K","T = 4 K","T = 10 K","T = 16 K"],"range":["M-5,0H5M-0.9,-0.9H0.9V0.9H-0.9Z","M-5,0H5M-1.1,0A1.1,1.1,0,1,0,1.1,0A1.1,1.1,0,1,0,-1.1,0Z","M-5,0H5M0,-1.15L1.15,0.9L-1.15,0.9Z","M-5,0H5M0,-1.2L1.2,0L0,1.2L-1.2,0Z"]},"legend":{"orient":"none","legendX":284,"legendY":15.4,"title":"H // b","titleFontSize":22,"titleAnchor":"middle","titlePadding":1.8,"labelFontSize":21,"labelOffset":11,"rowPadding":5.7,"symbolSize":64,"symbolStrokeWidth":1.3}}}},
{"data":{"values":[{"labC":"T = 2 K"},{"labC":"T = 10 K"},{"labC":"T = 16 K"}]},
 "mark":{"type":"point","filled":true,"clip":true,"strokeWidth":1.3},
 "encoding":{
 "x":{"datum":-0.3,"type":"quantitative","scale":{"domain":[-0.1,5.01],"nice":false,"zero":false},"axis":null},
 "y":{"datum":-0.5,"type":"quantitative","scale":{"domain":[-0.2,6.48],"nice":false,"zero":false},"axis":null},
 "fill":{"field":"labC","type":"nominal","scale":{"domain":["T = 2 K","T = 10 K","T = 16 K"],"range":["#B36EF2","#3E0B5A","#444444"]},"legend":{"orient":"none","legendX":429.5,"legendY":15.4,"title":"H // c*","titleFontSize":22,"titleAnchor":"middle","titlePadding":1.8,"labelFontSize":21,"labelOffset":10.8,"rowPadding":5.7,"symbolSize":64,"symbolStrokeWidth":1.3}},
 "stroke":{"field":"labC","type":"nominal","scale":{"domain":["T = 2 K","T = 10 K","T = 16 K"],"range":["#B36EF2","#3E0B5A","#444444"]},"legend":{"orient":"none","legendX":429.5,"legendY":15.4,"title":"H // c*","titleFontSize":22,"titleAnchor":"middle","titlePadding":1.8,"labelFontSize":21,"labelOffset":10.8,"rowPadding":5.7,"symbolSize":64,"symbolStrokeWidth":1.3}},
 "shape":{"field":"labC","type":"nominal","scale":{"domain":["T = 2 K","T = 10 K","T = 16 K"],"range":["M-5,0H5M0,-1.1L1.05,-0.34L0.65,0.9L-0.65,0.9L-1.05,-0.34Z","M-5,0H5M0,1.15L1.15,-0.9L-1.15,-0.9Z","M-5,0H5M1.15,0L-0.9,-1.15L-0.9,1.15Z"]},"legend":{"orient":"none","legendX":429.5,"legendY":15.4,"title":"H // c*","titleFontSize":22,"titleAnchor":"middle","titlePadding":1.8,"labelFontSize":21,"labelOffset":10.8,"rowPadding":5.7,"symbolSize":64,"symbolStrokeWidth":1.3}}}},
{"data":{"name":"origin"},"mark":{"type":"rule","color":"#8A8A8A","strokeWidth":1},
 "encoding":{
 "x":{"datum":3.52,"type":"quantitative","scale":{"domain":[-0.1,5.01],"nice":false,"zero":false},"axis":null},
 "y":{"datum":3.65,"type":"quantitative","scale":{"domain":[-0.2,6.48],"nice":false,"zero":false},"axis":null},
 "y2":{"datum":6.12}}},
{"data":{"name":"botInset"},"mark":{"type":"line","strokeWidth":3.5},
 "encoding":{
 "order":{"field":"i","type":"quantitative"},
 "x":{"field":"H","type":"quantitative","scale":{"domain":[0,7],"range":[31,264.3],"nice":false,"zero":false},"axis":{"orient":"bottom","offset":-112,"values":[0,2,4,6],"labelFontSize":17,"tickSize":-5,"labelPadding":10,"title":null}},
 "y":{"field":"M","type":"quantitative","scale":{"domain":[-0.18,6.03],"range":[185,16],"nice":false,"zero":false},"axis":{"orient":"left","offset":-31,"values":[0,2,4,6],"labelFontSize":17,"tickSize":-5,"labelPadding":11,"title":null}},
 "color":{"field":"s","type":"nominal","scale":{"domain":["b","c"],"range":["#7ACDF5","#B06AF0"]},"legend":null}}},
{"data":{"name":"botInset"},"mark":{"type":"point","filled":true,"size":30,"opacity":1},
 "encoding":{
 "x":{"field":"H","type":"quantitative","scale":{"domain":[0,7],"range":[31,264.3],"nice":false,"zero":false},"axis":{"orient":"bottom","offset":-112,"values":[1,3,5,7],"labels":false,"tickSize":-3,"domain":false,"title":null}},
 "y":{"field":"M","type":"quantitative","scale":{"domain":[-0.18,6.03],"range":[185,16],"nice":false,"zero":false},"axis":{"orient":"left","offset":-31,"values":[1,3,5],"labels":false,"tickSize":-3,"domain":false,"title":null}},
 "color":{"field":"s","type":"nominal","scale":{"domain":["b","c"],"range":["#7ACDF5","#B06AF0"]},"legend":null},
 "shape":{"field":"s","type":"nominal","scale":{"domain":["b","c"],"range":["triangle-up","circle"]},"legend":null}}},
{"data":{"name":"botArrows"},"mark":{"type":"rule","strokeWidth":1.6,"color":"#7ACDF5"},
 "encoding":{
 "x":{"field":"H","type":"quantitative","scale":{"domain":[0,7],"range":[31,264.3],"nice":false,"zero":false},"axis":{"orient":"top","offset":-16,"values":[0,1,2,3,4,5,6,7],"labels":false,"tickSize":-4,"title":null}},
 "y":{"field":"M","type":"quantitative","scale":{"domain":[-0.18,6.03],"range":[185,16],"nice":false,"zero":false},"axis":{"orient":"right","offset":-312.7,"values":[0,1,2,3,4,5,6],"labels":false,"tickSize":-4,"title":null}},
 "x2":{"field":"H2"},"y2":{"field":"M2"}}},
{"data":{"name":"botArrows"},"transform":[{"calculate":"atan2((datum.H2-datum.H)*33.33,(datum.M2-datum.M)*27.2)*180/PI","as":"ang"}],
 "mark":{"type":"point","shape":"triangle-up","filled":true,"size":40,"color":"#7ACDF5","opacity":1},
 "encoding":{
 "x":{"field":"H2","type":"quantitative","scale":{"domain":[0,7],"range":[31,264.3],"nice":false,"zero":false},"axis":null},
 "y":{"field":"M2","type":"quantitative","scale":{"domain":[-0.18,6.03],"range":[185,16],"nice":false,"zero":false},"axis":null},
 "angle":{"field":"ang","type":"quantitative","scale":null}}},
{"data":{"name":"origin"},"mark":{"type":"text","text":"T = 2 K","fontSize":17,"align":"left","baseline":"alphabetic","color":"black"},
 "encoding":{
 "x":{"datum":0.22,"type":"quantitative","scale":{"domain":[0,7],"range":[31,264.3],"nice":false,"zero":false},"axis":null},
 "y":{"datum":5.11,"type":"quantitative","scale":{"domain":[-0.18,6.03],"range":[185,16],"nice":false,"zero":false},"axis":null}}},
{"data":{"values":[{"labI":"H // b"},{"labI":"H // c*"}]},
 "mark":{"type":"point","filled":true,"clip":true,"strokeWidth":1.3},
 "encoding":{
 "x":{"datum":-2,"type":"quantitative","scale":{"domain":[0,7],"range":[31,264.3],"nice":false,"zero":false},"axis":null},
 "y":{"datum":-0.5,"type":"quantitative","scale":{"domain":[-0.18,6.03],"range":[185,16],"nice":false,"zero":false},"axis":null},
 "fill":{"field":"labI","type":"nominal","scale":{"domain":["H // b","H // c*"],"range":["#7ACDF5","#B06AF0"]},"legend":{"orient":"none","legendX":58.7,"legendY":59.3,"title":null,"labelFontSize":18,"labelOffset":17.6,"rowPadding":3.7,"symbolSize":64,"symbolStrokeWidth":1.3}},
 "stroke":{"field":"labI","type":"nominal","scale":{"domain":["H // b","H // c*"],"range":["#7ACDF5","#B06AF0"]},"legend":{"orient":"none","legendX":58.7,"legendY":59.3,"title":null,"labelFontSize":18,"labelOffset":17.6,"rowPadding":3.7,"symbolSize":64,"symbolStrokeWidth":1.3}},
 "shape":{"field":"labI","type":"nominal","scale":{"domain":["H // b","H // c*"],"range":["M-5,0H5M0,-0.8L0.8,0.6L-0.8,0.6Z","M-5,0H5M-0.7,0A0.7,0.7,0,1,0,0.7,0A0.7,0.7,0,1,0,-0.7,0Z"]},"legend":{"orient":"none","legendX":58.7,"legendY":59.3,"title":null,"labelFontSize":18,"labelOffset":17.6,"rowPadding":3.7,"symbolSize":64,"symbolStrokeWidth":1.3}}}}
]
}
]
}
